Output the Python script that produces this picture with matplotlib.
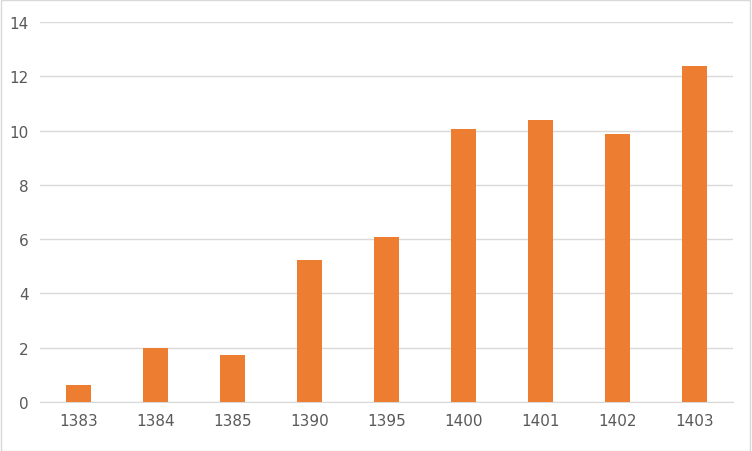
import matplotlib.pyplot as plt

years = ['1383', '1384', '1385', '1390', '1395', '1400', '1401', '1402', '1403']
values = [0.63, 1.99, 1.73, 5.23, 6.08, 10.06, 10.39, 9.87, 12.38]

fig = plt.figure(figsize=(7.52, 4.52), dpi=100)
ax = fig.add_axes([40 / 752, 49 / 452, 693 / 752, 380 / 452])

ax.bar(range(len(years)), values, width=0.33, color='#ED7D31', zorder=3)
ax.set_xlim(-0.5, len(years) - 0.5)
ax.set_ylim(0, 14)
ax.set_yticks(range(0, 15, 2))
ax.set_xticks(range(len(years)))
ax.set_xticklabels(years)
ax.grid(axis='y', color='#D9D9D9', linewidth=1, zorder=0)
for s in ['top', 'right', 'left']:
    ax.spines[s].set_visible(False)
ax.spines['bottom'].set_color('#D9D9D9')
ax.tick_params(length=0, labelsize=11, colors='#595959', pad=8)

fig.patches.append(plt.Rectangle((0.001, 0.001), 0.997, 0.997, transform=fig.transFigure,
                                 fill=False, edgecolor='#D9D9D9', linewidth=1))
fig.savefig('out.png', dpi=100)
